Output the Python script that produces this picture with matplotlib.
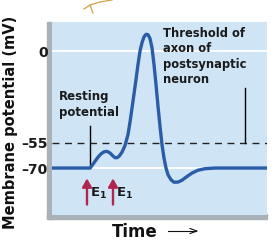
import matplotlib
matplotlib.use("Agg")
import matplotlib.pyplot as plt
from matplotlib.patches import Rectangle
from matplotlib.lines import Line2D

# Data (time in arbitrary units, potential in mV)
time = [0, 38, 40, 43, 46, 49, 52, 55, 58, 61, 63, 65, 67, 70, 73, 76, 78, 81,
        84, 86, 88, 90, 92, 94, 96, 98, 100, 102, 104, 106, 108, 110, 112, 114,
        116, 119, 122, 126, 130, 134, 140, 146, 153, 163, 215]
potential = [-70, -70, -68.5, -66, -63.5, -61.5, -60.3, -60, -61, -62.8, -63.8,
             -63.8, -63, -60.5, -56.5, -50, -42.5, -30, -17, -8, 0, 5, 8.5, 10,
             9.8, 7.5, 2, -8, -20, -33, -45, -56, -64, -70, -74, -77, -78.5,
             -78.4, -77.3, -75.5, -73, -71.3, -70.4, -70, -70]
yticks = [0, -55, -70]
yticklabels = ["0", "\u201355", "\u201370"]
stim_times = [35, 61]
stim_labels = ["E$_\\mathbf{1}$", "E$_\\mathbf{1}$"]
threshold = -55
resting = -70

W, H = 278, 244
fig = plt.figure(figsize=(W / 100, H / 100), dpi=100)
fig.patch.set_facecolor("white")

def fx(px):
    return px / W

def fy(py):
    return 1 - py / H

# gray frame (left and bottom)
fig.add_artist(Rectangle((fx(47), fy(219)), fx(6), fy(22) - fy(219),
                         transform=fig.transFigure, color="#a9b1b9", zorder=0))
fig.add_artist(Rectangle((fx(47), fy(219)), fx(267) - fx(47), fy(214) - fy(219),
                         transform=fig.transFigure, color="#a9b1b9", zorder=0))

ax = fig.add_axes([fx(52), fy(215), fx(267) - fx(52), fy(22) - fy(215)])
ax.set_facecolor("#cfe5f6")
ax.set_xlim(0, 215)
ax.set_ylim(-98.1, 17.4)
for s in ax.spines.values():
    s.set_visible(False)
ax.set_xticks([])
ax.set_yticks(yticks)
ax.set_yticklabels(yticklabels, fontsize=10, fontweight="bold", color="#1a1a1a")
ax.tick_params(axis="y", length=0, pad=3)

# white gridlines at 0 and resting
ax.axhline(0, color="white", lw=1.3, zorder=1)
ax.axhline(resting, color="white", lw=1.3, zorder=1)
# threshold dashed
ax.axhline(threshold, color="#222222", lw=1.0, ls=(0, (5, 4)), zorder=2)

ax.plot(time, potential, color="#2a5ca8", lw=2.4, solid_capstyle="round",
        solid_joinstyle="round", zorder=3)

# annotation lines
ax.plot([38, 38], [-45, -70], color="black", lw=1.0, zorder=2)
ax.plot([193, 193], [-22, -55], color="black", lw=1.0, zorder=2)

ax.text(7, -23.5, "Resting\npotential", fontsize=8.5, fontweight="bold",
        va="top", ha="left", color="#1a1a1a", linespacing=1.25)
ax.text(111, 14.5, "Threshold of\naxon of\npostsynaptic\nneuron", fontsize=8.3,
        fontweight="bold", va="top", ha="left", color="#1a1a1a", linespacing=1.25)

for t, lab in zip(stim_times, stim_labels):
    ax.annotate("", xy=(t, -74.5), xytext=(t, -93.5),
                arrowprops=dict(arrowstyle="-|>,head_width=0.28,head_length=0.5",
                                color="#b2254f", lw=1.7), zorder=4)
    ax.text(t + 2.5, -85, lab, fontsize=9.5, fontweight="bold", va="center",
            ha="left", color="#1a1a1a")

fig.text(fx(11), fy(122), "Membrane potential (mV)", rotation=90,
         fontsize=10.5, fontweight="bold", ha="center", va="center", color="#111111")
fig.text(fx(135), fy(232), "Time", fontsize=12, fontweight="bold",
         ha="center", va="center", color="#111111")
fig.add_artist(Line2D([fx(168), fx(196)], [fy(231), fy(231)], transform=fig.transFigure,
                      color="#111111", lw=0.8))
fig.add_artist(Line2D([fx(190), fx(197), fx(190)], [fy(228.5), fy(231), fy(233.5)],
                      transform=fig.transFigure, color="#111111", lw=0.8))

# small neuron fragment at the top
fig.add_artist(Line2D([fx(84), fx(90), fx(100), fx(112)], [fy(9), fy(5), fy(2), fy(0)],
                      transform=fig.transFigure, color="#d4a24a", lw=0.9))
fig.add_artist(Line2D([fx(90), fx(93)], [fy(5), fy(13)],
                      transform=fig.transFigure, color="#d4a24a", lw=0.9))

fig.savefig("out.png", dpi=100)
